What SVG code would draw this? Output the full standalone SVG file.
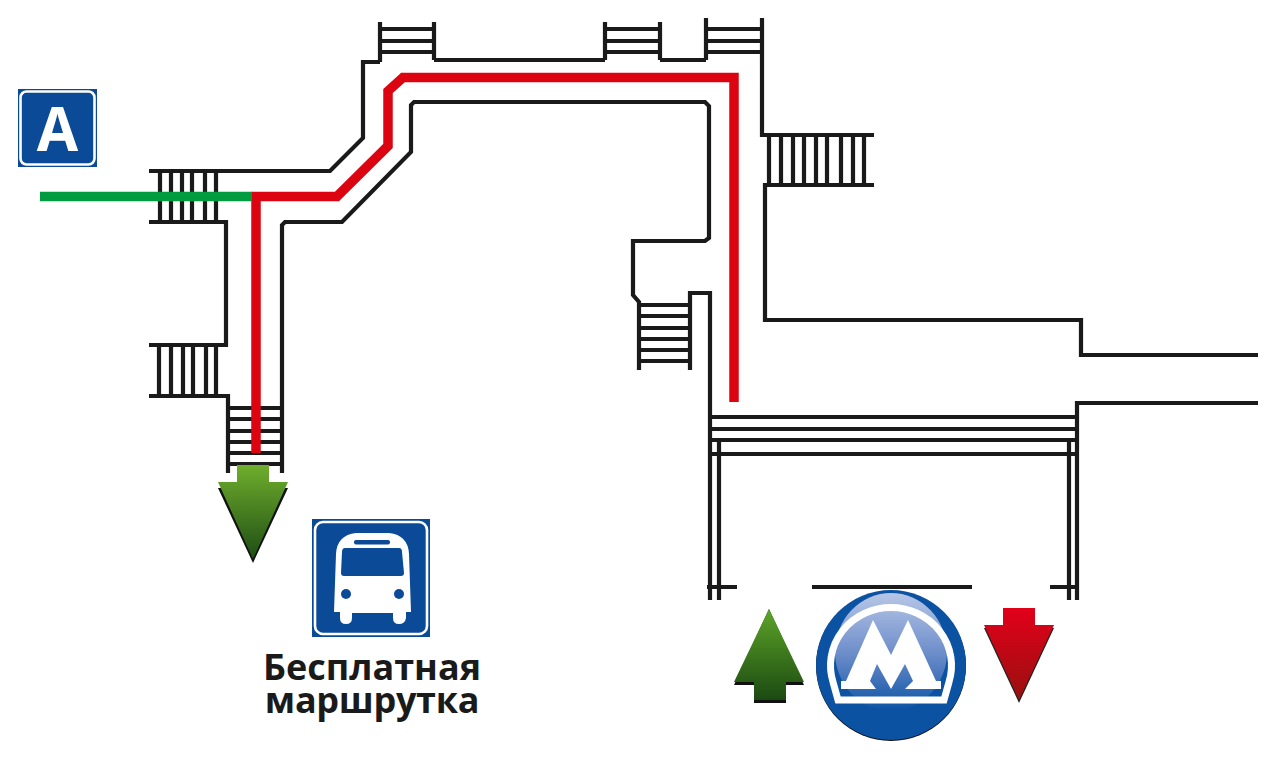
<svg xmlns="http://www.w3.org/2000/svg" width="1280" height="771" viewBox="0 0 1280 771">
<style>
.w{fill:none;stroke:#1a1a1a;stroke-width:4.2;stroke-linejoin:miter}
.t{font-family:"Open Sans","Liberation Sans",sans-serif;font-weight:700;font-size:36px;fill:#1a1a1a;text-anchor:middle}
.sign{fill:#0b4a97}
.frame{fill:none;stroke:#fff;stroke-width:2.6}
.route{fill:none;stroke-width:9.5;stroke-linejoin:miter}
</style>
<defs>
<linearGradient id="gd" x1="0" y1="0" x2="0" y2="1"><stop offset="0" stop-color="#6fae2d"/><stop offset="1" stop-color="#1e4d14"/></linearGradient>
<linearGradient id="gu" x1="0" y1="0" x2="0" y2="1"><stop offset="0" stop-color="#5da428"/><stop offset="1" stop-color="#1b4a12"/></linearGradient>
<linearGradient id="rd" x1="0" y1="0" x2="0" y2="1"><stop offset="0" stop-color="#e2001a"/><stop offset="1" stop-color="#98100f"/></linearGradient>
<linearGradient id="gl" x1="0" y1="0" x2="0" y2="1"><stop offset="0" stop-color="#b7c6e6"/><stop offset=".5" stop-color="#6f8fcb"/><stop offset="1" stop-color="#0b52a3"/></linearGradient>
</defs>
<rect width="1280" height="771" fill="#fff"/>
<g id="walls" class="w">
<path d="M149 171H330L363 138V62H380"/>
<path d="M434 60H605"/>
<path d="M660 60H706"/>
<path d="M762 18V135H874"/>
<path d="M874 185H765V320H1081V355H1258"/>
<path d="M149 222H226V345H149"/>
<path d="M149 396H228V473"/>
<path d="M282 473V225L285 222H342L411 152V105L414 102H705L709 106V238L705 241H633V295L639 302V370"/>
<path d="M690 370V293H710V600"/>
<path d="M1258 403H1077V600"/>
<path d="M719 440V600M1069 440V600"/>
<path d="M707 587H737M812 587H972M1050 587H1079"/>
</g>
<g id="stair-top-1" class="w"><path d="M380 22V62M434 22V60M380 29H434M380 41H434M380 52H434"/></g>
<g id="stair-top-2" class="w"><path d="M605 22V60M660 22V60M605 29H660M605 41H660M605 52H660"/></g>
<g id="stair-top-3" class="w"><path d="M706 18V60M706 29H762M706 41H762M706 52H762"/></g>
<g id="stair-right" class="w"><path d="M769 135V185M781 135V185M793 135V185M804 135V185M816 135V185M827 135V185M841 135V185M853 135V185M864 135V185"/></g>
<g id="stair-west-1" class="w"><path d="M160 171V222M171 171V222M182 171V222M192 171V222M205 171V222M216 171V222"/></g>
<g id="stair-west-2" class="w"><path d="M159 345V396M171 345V396M183 345V396M193 345V396M206 345V396M216 345V396"/></g>
<g id="stair-south" class="w"><path d="M228 408H282M228 419H282M228 431H282M228 442H282M228 453H282M228 464H282"/></g>
<g id="stair-mid" class="w"><path d="M639 305H690M639 316H690M639 328H690M639 339H690M639 350H690M639 361H690"/></g>
<g id="stair-platform" class="w"><path d="M710 417H1077M710 429H1077M710 440H1077M710 454H1077"/></g>
<g id="connectors">
<path class="route" stroke="#dd0412" d="M256 453V196.500H337L388 146V91L403 77.500H734V402"/>
<path class="route" stroke="#009b3e" d="M40 196.500H252"/>
</g>
<g id="sign-a">
<rect class="sign" x="18" y="89" width="79" height="78"/>
<rect class="frame" x="20.500" y="91.500" width="74" height="73" rx="6"/>
<text x="57.500" y="151" font-family="'Open Sans','Liberation Sans',sans-serif" font-weight="700" font-size="60" fill="#fff" text-anchor="middle">A</text>
</g>
<g id="arrow-bus">
<path d="M218 488H288L253 563Z" fill="#111"/>
<path d="M237 465H269V482H288L253 559L218 482H237Z" fill="url(#gd)"/>
</g>
<g id="sign-bus">
<rect class="sign" x="312" y="519" width="118" height="118"/>
<rect class="frame" x="315" y="522" width="112" height="112" rx="8"/>
<path d="M356 533H389Q408 535 409 554L411 612H406V618Q405 624 399 624Q393 624 393 618V613H352V618Q352 624 346 624Q340 624 340 618V612H334L336 554Q337 535 356 533Z" fill="#fff"/>
<rect class="sign" x="354" y="540" width="36" height="4.500" rx="2"/>
<path d="M345 548H399Q402 548 402 552L404 573Q404 576 401 576H344Q341 576 341 573L342 552Q342 548 345 548Z" class="sign"/>
<circle class="sign" cx="346" cy="594" r="5"/>
<circle class="sign" cx="399" cy="594" r="5"/>
</g>
<g id="label-bus">
<text class="t"><tspan x="372" y="680">Бесплатная</tspan><tspan x="372" y="713" letter-spacing="-.3">маршрутка</tspan></text>
</g>
<g id="arrow-up">
<path d="M769 609L804 685H786V703H754V685H734Z" fill="#111"/>
<path d="M769 609L804 682H786V700H754V682H734Z" fill="url(#gu)"/>
</g>
<g id="metro">
<circle cx="891" cy="666" r="75" fill="#111"/>
<circle cx="891" cy="665" r="75" fill="#0b52a3"/>
<ellipse cx="891" cy="652" rx="56" ry="59" fill="url(#gl)"/>
<path d="M838 700L833 682A60.500 58 0 1 1 949 682L944 700Z" fill="none" stroke="#fff" stroke-width="7" stroke-linejoin="miter"/>
<path d="M873 620L891 655L908 620L936 681H941V689H905L913 681L905 664L891 689L877 664L870 681L876 689H841V681H846Z" fill="#fff"/>
</g>
<g id="arrow-down">
<path d="M984 628H1054L1019 703Z" fill="#222"/>
<path d="M1003 608H1035V625H1054L1019 700L984 625H1003Z" fill="url(#rd)"/>
</g>
</svg>
